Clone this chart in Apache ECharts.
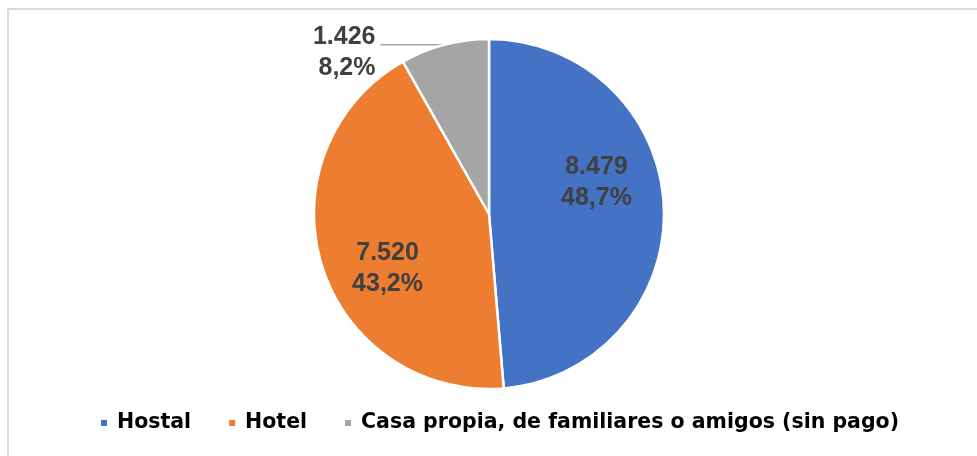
<!DOCTYPE html>
<html>
<head>
<meta charset="utf-8">
<script src="https://cdn.jsdelivr.net/npm/echarts@6/dist/echarts.min.js"></script>
<style>
html,body{margin:0;padding:0;background:#fff;}
#chart{width:977px;height:456px;}
</style>
</head>
<body>
<div id="chart"></div>
<script>
const categories = ['Hostal', 'Hotel', 'Casa propia, de familiares o amigos (sin pago)'];
const values = [8479, 7520, 1426];
const colors = ['#4472C4', '#ED7D31', '#A5A5A5'];
const labelPositions = ['inside', 'inside', 'outside'];
const labelShift = [[17, -28], [-15, 28], [0, 0]];

function fmtInt(v) {
  return String(v).replace(/\B(?=(\d{3})+(?!\d))/g, '.');
}
function fmtPct(p) {
  return p.toFixed(1).replace('.', ',') + '%';
}

const chart = echarts.init(document.getElementById('chart'), null, {renderer: 'canvas'});
const option = {
  animation: false,
  backgroundColor: '#ffffff',
  graphic: [{
    type: 'rect',
    shape: {x: 8, y: 9, width: 1200, height: 1200},
    style: {fill: 'none', stroke: '#d9d9d9', lineWidth: 2},
    silent: true,
    z: -10
  }],
  legend: {
    data: categories,
    left: 94,
    top: 406,
    icon: 'rect',
    itemWidth: 8,
    itemHeight: 8,
    itemGap: 36,
    selectedMode: false,
    textStyle: {
      fontFamily: 'DejaVu Sans',
      fontWeight: 'bold',
      fontSize: 20.5,
      color: '#000000',
      lineHeight: 24,
      padding: [0, 0, 0, 4]
    }
  },
  series: [{
    type: 'pie',
    center: [489, 214],
    radius: 175,
    startAngle: 90,
    clockwise: true,
    avoidLabelOverlap: false,
    itemStyle: {borderColor: '#ffffff', borderWidth: 2.5},
    label: {
      fontFamily: 'Liberation Sans',
      fontWeight: 'bold',
      fontSize: 25,
      lineHeight: 31,
      color: '#404040',
      formatter: function (p) { return fmtInt(p.value) + '\n' + fmtPct(p.percent); }
    },
    labelLine: {
      show: true,
      length: 0,
      length2: 64,
      lineStyle: {color: '#a6a6a6', width: 1.5}
    },
    labelLayout: function (params) {
      const s = labelShift[params.dataIndex];
      return {dx: s[0], dy: s[1]};
    },
    data: categories.map(function (c, i) {
      const item = {
        name: c,
        value: values[i],
        itemStyle: {color: colors[i]},
        label: {position: labelPositions[i]}
      };
      if (labelPositions[i] === 'outside') {
        item.label.align = 'right';
        item.label.formatter = function (p) {
          return '{s| }\n{a|' + fmtInt(p.value) + '}\n{a|' + fmtPct(p.percent) + '}';
        };
        item.label.rich = {
          s: {lineHeight: 16, fontSize: 10},
          a: {lineHeight: 31, fontSize: 25, fontWeight: 'bold', fontFamily: 'Liberation Sans', color: '#404040'}
        };
      }
      return item;
    })
  }]
};
chart.setOption(option);
</script>
</body>
</html>
